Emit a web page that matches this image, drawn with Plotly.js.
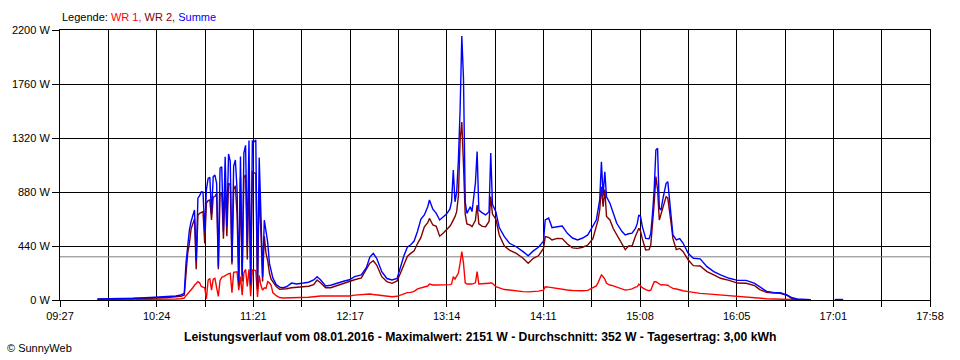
<!DOCTYPE html>
<html>
<head>
<meta charset="utf-8">
<script src="https://cdn.plot.ly/plotly-3.0.1.min.js"></script>
<style>html,body{margin:0;padding:0;background:#fff;}#chart{width:960px;height:360px;}</style>
</head>
<body>
<div id="chart"></div>
<script>
// ---- data ----
const times = ["09:49","10:00","10:10","10:20","10:30","10:35","10:38","10:40","10:41","10:42","10:43","10:44","10:45","10:46","10:47","10:48","10:49","10:50","10:51","10:52","10:53","10:54","10:55","10:56","10:57","10:58","10:59","11:00","11:01","11:02","11:03","11:04","11:05","11:06","11:07","11:08","11:09","11:10","11:11","11:12","11:13","11:14","11:15","11:16","11:17","11:18","11:19","11:20","11:21","11:22","11:23","11:24","11:25","11:26","11:27","11:28","11:29","11:30","11:31","11:32","11:34","11:36","11:38","11:40","11:43","11:46","11:50","11:53","11:56","11:58","12:00","12:03","12:06","12:10","12:14","12:17","12:20","12:24","12:27","12:29","12:31","12:33","12:36","12:39","12:42","12:45","12:47","12:49","12:51","12:53","12:55","12:57","12:59","13:01","13:03","13:04","13:06","13:08","13:10","13:12","13:14","13:16","13:17","13:18","13:19","13:20","13:21","13:22","13:23","13:24","13:25","13:26","13:28","13:29","13:31","13:32","13:33","13:35","13:37","13:39","13:40","13:41","13:43","13:45","13:48","13:51","13:55","13:59","14:02","14:05","14:08","14:11","14:12","14:14","14:16","14:19","14:22","14:25","14:28","14:31","14:34","14:37","14:40","14:42","14:43","14:44","14:45","14:46","14:47","14:48","14:50","14:52","14:54","14:57","14:59","15:01","15:03","15:05","15:06","15:07","15:08","15:09","15:11","15:13","15:14","15:15","15:16","15:17","15:18","15:19","15:20","15:21","15:22","15:23","15:24","15:25","15:26","15:27","15:29","15:31","15:33","15:36","15:39","15:43","15:47","15:51","15:55","16:00","16:05","16:10","16:15","16:18","16:22","16:26","16:30","16:34","16:37","16:40","16:44","16:48","16:49","17:02","17:07"];

const summe = [8,10,14,20,27,33,41,54,300,450,570,640,690,733,320,830,850,882,880,560,900,991,1000,700,1005,1018,951,270,1075,1086,560,1168,600,1190,1130,310,1092,1141,900,150,1170,200,1197,1260,440,1300,140,1295,1290,1304,110,1160,706,190,650,546,470,300,244,180,125,105,100,108,138,130,138,145,163,190,165,115,120,140,155,165,190,205,265,350,380,340,230,175,163,175,270,360,430,450,480,560,660,693,760,815,740,706,652,679,700,740,801,1059,800,880,1141,1548,2151,1800,800,706,760,720,953,1209,733,710,693,720,1197,780,720,590,516,462,434,394,360,400,430,480,652,668,590,597,603,543,505,489,505,530,600,652,733,815,1127,850,1045,840,788,700,625,560,530,540,545,584,620,693,680,600,502,500,543,700,900,1222,1236,750,733,815,900,951,964,800,650,530,489,500,462,380,340,335,272,231,204,177,160,160,136,108,70,62,59,41,18,8,5,3,null,4,4];

const wr2 = [6,8,10,14,20,25,30,40,240,380,462,580,620,660,250,690,706,715,720,460,790,810,815,652,840,842,869,250,860,870,500,937,520,951,940,290,900,930,700,120,1000,150,1000,1020,330,1040,120,1045,1040,1030,90,900,560,150,520,380,320,220,170,150,110,87,87,92,100,103,105,112,125,163,140,100,100,120,135,155,165,180,255,300,320,285,190,149,136,155,220,290,355,380,400,460,510,597,630,665,611,600,520,543,570,600,625,650,679,720,850,1300,1450,1100,700,620,610,597,650,774,620,600,597,640,842,700,660,530,440,407,380,340,300,340,360,420,516,510,489,502,500,456,425,421,430,448,500,600,650,733,923,760,900,680,652,580,530,460,410,440,440,520,560,584,560,500,407,410,450,600,788,1005,900,652,700,760,800,842,830,700,620,500,410,420,394,326,280,277,231,204,177,160,138,136,117,85,62,56,54,38,12,4,2,0,null,null,null];

const wr1 = [2,2,3,5,7,8,10,16,35,50,65,80,100,120,135,149,140,110,105,100,10,163,175,80,170,177,100,30,160,185,190,200,210,215,217,60,225,230,230,80,190,40,220,250,110,250,30,245,244,240,25,200,120,80,100,95,150,140,120,60,35,20,16,16,18,18,20,22,27,33,33,33,33,33,33,33,40,45,49,49,45,41,35,27,27,30,40,50,60,62,70,90,100,110,114,130,122,122,122,122,122,125,130,190,170,200,220,300,394,300,140,130,130,130,140,231,130,130,130,136,140,136,108,100,85,81,72,68,66,68,72,80,108,105,100,95,87,81,77,73,75,78,100,115,140,180,204,190,170,136,122,115,105,85,81,85,90,105,108,130,115,100,85,76,80,120,149,149,140,125,122,125,122,122,120,110,100,95,90,81,75,68,60,54,50,45,41,35,28,22,16,14,10,8,6,5,3,1,0,0,null,null,null];

const averageW = 352;
const axisStart = "09:27";
const axisEnd = "17:58";
const xTickLabels = ["09:27","10:24","11:21","12:17","13:14","14:11","15:08","16:05","17:01","17:58"];
const yTickValues = [0,440,880,1320,1760,2200];

// ---- helpers ----
function toMin(s){ const p = s.split(":"); return (+p[0])*60 + (+p[1]); }
const xs = times.map(toMin);
const x0 = toMin(axisStart), x1 = toMin(axisEnd);
const nGrid = (xTickLabels.length - 1) * 2;
const gridVals = [], gridText = [];
for (let i = 0; i <= nGrid; i++) {
  gridVals.push(x0 + i * (x1 - x0) / nGrid);
  gridText.push(i % 2 === 0 ? xTickLabels[i / 2] : "");
}

const font = {family: "Liberation Sans, Arial, sans-serif", size: 11, color: "#000"};

const traces = [
  {x: [x0, x1], y: [averageW, averageW], mode: "lines", line: {color: "#808080", width: 1}, hoverinfo: "skip", showlegend: false},
  {x: xs, y: wr1, name: "WR 1", mode: "lines", line: {color: "#ff0000", width: 1.4}, connectgaps: false},
  {x: xs, y: wr2, name: "WR 2", mode: "lines", line: {color: "#800000", width: 1.4}, connectgaps: false},
  {x: xs, y: summe, name: "Summe", mode: "lines", line: {color: "#0000ff", width: 1.4}, connectgaps: false}
];

const layout = {
  width: 960, height: 360,
  margin: {l: 60, r: 30, t: 30, b: 60, pad: 0},
  paper_bgcolor: "#fff", plot_bgcolor: "#fff",
  showlegend: false,
  font: font,
  xaxis: {
    range: [x0, x1], tickmode: "array", tickvals: gridVals, ticktext: gridText,
    showgrid: true, gridcolor: "#000", gridwidth: 1, zeroline: false,
    showline: true, linecolor: "#000", linewidth: 1, mirror: true,
    ticks: "outside", ticklen: 6, tickcolor: "#000", tickwidth: 1,
    tickfont: font, fixedrange: true
  },
  yaxis: {
    range: [0, 2200], tickmode: "array", tickvals: yTickValues,
    ticktext: yTickValues.map(v => v + " W"),
    showgrid: true, gridcolor: "#000", gridwidth: 1, zeroline: false,
    showline: true, linecolor: "#000", linewidth: 1, mirror: true,
    ticks: "outside", ticklen: 7, tickcolor: "#000", tickwidth: 1,
    tickfont: font, fixedrange: true
  },
  annotations: [
    {xref: "paper", yref: "paper", x: 0, y: 1.048, xanchor: "left", yanchor: "middle", showarrow: false,
     text: 'Legende: <span style="color:#ff0000">WR 1, </span><span style="color:#800000">WR 2, </span><span style="color:#0000ff">Summe</span>',
     font: font},
    {xref: "paper", yref: "paper", x: 0.4828, y: -0.137, xanchor: "center", yanchor: "middle", showarrow: false,
     text: "<b>Leistungsverlauf vom 08.01.2016 - Maximalwert: 2151 W - Durchschnitt: 352 W - Tagesertrag: 3,00 kWh</b>",
     font: {family: font.family, size: 12.2, color: "#000"}},
    {xref: "paper", yref: "paper", x: -0.063, y: -0.178, xanchor: "left", yanchor: "middle", showarrow: false,
     text: "© SunnyWeb", font: font}
  ]
};

Plotly.newPlot("chart", traces, layout, {displayModeBar: false, staticPlot: true});
</script>
</body>
</html>
